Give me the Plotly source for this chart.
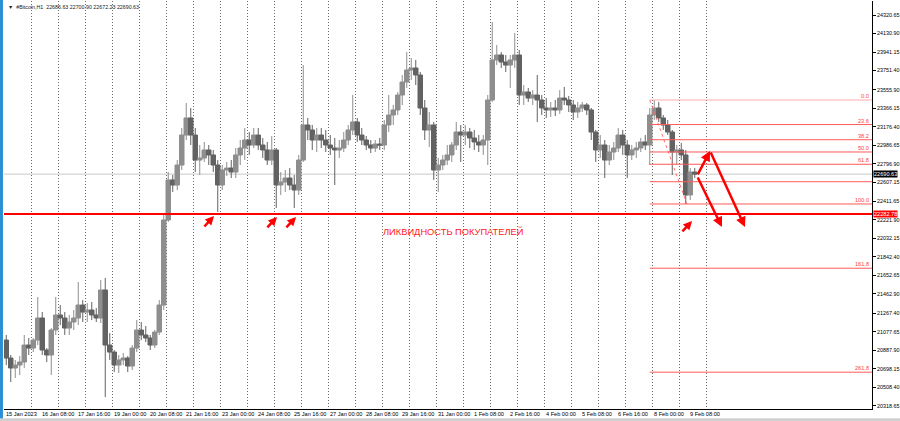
import pandas as pd
import plotly.graph_objects as go

# ---------------- data ----------------
header_text = "▼  #Bitcoin,H1  22686.63 22700.90 22672.23 22690.63"

bar_start = "2023-01-15 02:00"      # middle of first 4-hour bar
bar_freq = "4h"
first_open = 20991

highs = [
    21043, 20838, 20787, 20827, 21043, 21012,
    21012, 21432, 21278, 20909, 21114, 21432,
    21350, 21278, 21248, 21299, 21586, 21401,
    21370, 21381, 21319, 21606, 21627, 21063,
    20889, 20838, 20858, 20827, 20940, 21196,
    21176, 21135, 21043, 21094, 21401, 22272,
    22712, 22682, 22835, 23163, 23419, 23368,
    23163, 22989, 23020, 22989, 22938, 22835,
    22784, 22815, 22835, 22958, 23040, 23163,
    23122, 23163, 23163, 23061, 23020, 23081,
    22958, 22712, 22733, 22753, 22682, 22887,
    23808, 23266, 23194, 23163, 23163, 23143,
    23091, 23061, 23040, 23122, 23194, 23501,
    23266, 23163, 23081, 23040, 23040, 23061,
    23245, 23501, 23399, 23532, 23706, 23941,
    23880, 23860, 23737, 23450, 23327, 23225,
    22856, 22887, 22989, 23020, 23225, 23194,
    23194, 23163, 23143, 23091, 23091, 23501,
    24249, 24013, 23941, 23911, 23911, 24136,
    23962, 23603, 23573, 23552, 23706, 23501,
    23470, 23430, 23450, 23552, 23583, 23491,
    23450, 23430, 23430, 23419, 23368, 23143,
    23091, 23040, 22989, 23020, 23163, 23143,
    23040, 22989, 23020, 23061, 23091, 23368,
    23450, 23430, 23296, 23245, 23143, 22989,
    23010, 22938, 22753, 22753,
]
lows = [
    20735, 20561, 20602, 20633, 20705, 20838,
    20868, 20940, 20838, 20766, 20633, 21043,
    21145, 21043, 21043, 21094, 21145, 21176,
    21176, 21196, 21176, 21166, 20407, 20787,
    20664, 20653, 20735, 20664, 20684, 20868,
    20991, 20971, 20889, 20909, 21043, 21299,
    22201, 22508, 22528, 22733, 23040, 22989,
    22712, 22682, 22815, 22784, 22712, 22303,
    22528, 22672, 22651, 22651, 22784, 22835,
    22887, 22958, 22938, 22856, 22784, 22784,
    22344, 22477, 22508, 22528, 22344, 22477,
    22815, 23040, 22938, 22917, 22958, 22917,
    22887, 22579, 22856, 22917, 22989, 23091,
    23020, 22989, 22938, 22907, 22917, 22938,
    22938, 23122, 23194, 23296, 23399, 23573,
    23655, 23603, 23296, 23040, 22969, 22631,
    22508, 22733, 22784, 22815, 22938, 22815,
    22989, 22958, 22938, 22917, 22887, 22784,
    23430, 23808, 23778, 23737, 23573, 23778,
    23399, 23399, 23430, 23399, 23225, 23296,
    23266, 23276, 23286, 23307, 23399, 23327,
    23245, 23266, 23327, 23296, 23040, 22815,
    22856, 22651, 22784, 22835, 22917, 22887,
    22651, 22835, 22856, 22917, 22938, 22784,
    23245, 23225, 23143, 23091, 22682, 22784,
    22835, 22385, 22426, 22651,
]
closes = [
    20807, 20705, 20735, 20766, 20940, 20909,
    20991, 21217, 20889, 20838, 21094, 21248,
    21217, 21114, 21176, 21217, 21350, 21278,
    21299, 21248, 21217, 21504, 20940, 20868,
    20735, 20787, 20807, 20725, 20909, 21094,
    21043, 21012, 20940, 21073, 21350, 22221,
    22631, 22579, 22784, 23091, 23266, 23091,
    22835, 22856, 22938, 22887, 22784, 22579,
    22733, 22753, 22712, 22887, 22958, 23040,
    22989, 23091, 22989, 22938, 22835, 22938,
    22579, 22610, 22651, 22579, 22528, 22835,
    23194, 23143, 23040, 23091, 23040, 22989,
    22958, 22938, 22958, 23040, 23143, 23225,
    23091, 23040, 22989, 22958, 22999, 22989,
    23194, 23296, 23348, 23501, 23634, 23757,
    23778, 23706, 23368, 23143, 23194, 22733,
    22784, 22835, 22887, 22989, 23122, 23091,
    23122, 23061, 23020, 22989, 23040, 23450,
    23860, 23911, 23839, 23808, 23860, 23911,
    23501, 23532, 23470, 23501, 23450, 23368,
    23348, 23368, 23348, 23470, 23450, 23399,
    23327, 23368, 23399, 23348, 23122, 22938,
    22989, 22835, 22917, 22958, 23091, 22989,
    22887, 22938, 22958, 23020, 22989, 23296,
    23368, 23266, 23194, 23122, 22917, 22938,
    22887, 22477, 22712, 22690.63,
]

current_price = 22690.63
buyer_liquidity = 22282.78
liquidity_text = "ЛИКВИДНОСТЬ ПОКУПАТЕЛЕЙ"
liquidity_text_time = "2023-01-28 23:00"
liquidity_text_price = 22108

fib_high = 23450.0
fib_low = 22385.0
fib_high_time = "2023-02-07 22:00"
fib_low_time = "2023-02-09 07:00"
fib_levels = [0.0, 23.6, 38.2, 50.0, 61.8, 78.6, 100.0, 161.8, 261.8]
fib_labels = ["0.0", "23.6", "38.2", "50.0", "61.8", "", "100.0", "161.8", "261.8"]

# small arrows pointing at the lows (head time, head price)
touch_times = ["2023-01-22 18:40", "2023-01-25 02:40", "2023-01-25 19:35", "2023-02-09 11:35"]
touch_prices = [22262, 22252, 22252, 22211]

# forecast arrows: A -> B (up), B -> D (down), A -> C (down)
path_a = ("2023-02-09 16:00", 22672)
path_b = ("2023-02-10 03:35", 22927)
path_c = ("2023-02-10 14:10", 22149)
path_d = ("2023-02-11 10:40", 22149)

y_ticks = [24320.65, 24130.90, 23941.15, 23751.40, 23555.90, 23366.15, 23176.40,
           22986.65, 22796.90, 22607.15, 22411.65, 22221.90, 22032.15, 21842.40,
           21652.65, 21462.90, 21267.40, 21077.65, 20887.90, 20698.15, 20508.40,
           20318.65]

x_tick_times = ["2023-01-15 00:00", "2023-01-16 08:00", "2023-01-17 16:00", "2023-01-19 00:00",
                "2023-01-20 08:00", "2023-01-21 16:00", "2023-01-23 00:00", "2023-01-24 08:00",
                "2023-01-25 16:00", "2023-01-27 00:00", "2023-01-28 08:00", "2023-01-29 16:00",
                "2023-01-31 00:00", "2023-02-01 08:00", "2023-02-02 16:00", "2023-02-04 00:00",
                "2023-02-05 08:00", "2023-02-06 16:00", "2023-02-08 00:00", "2023-02-09 08:00"]
x_tick_labels = ["15 Jan 2023", "16 Jan 08:00", "17 Jan 16:00", "19 Jan 00:00",
                 "20 Jan 08:00", "21 Jan 16:00", "23 Jan 00:00", "24 Jan 08:00",
                 "25 Jan 16:00", "27 Jan 00:00", "28 Jan 08:00", "29 Jan 16:00",
                 "31 Jan 00:00", "1 Feb 08:00", "2 Feb 16:00", "4 Feb 00:00",
                 "5 Feb 08:00", "6 Feb 16:00", "8 Feb 00:00", "9 Feb 08:00"]
grid_days = pd.date_range("2023-01-16", "2023-02-10", freq="D")

x_range = ["2023-01-15 00:00", "2023-02-16 03:33"]
y_range = [20284.9, 24464.05]

# ---------------- figure ----------------
FONT = "Liberation Sans"
RED = "#ff0000"

times = pd.date_range(bar_start, periods=len(closes), freq=bar_freq)
opens = [first_open] + closes[:-1]

fig = go.Figure()
fig.add_trace(go.Candlestick(
    x=times, open=opens, high=highs, low=lows, close=closes,
    increasing=dict(line=dict(color="#8e8e8e", width=1), fillcolor="#8e8e8e"),
    decreasing=dict(line=dict(color="#626262", width=1), fillcolor="#626262"),
    whiskerwidth=0, showlegend=False, hoverinfo="skip",
))

# fib trend (dotted diagonal)
fig.add_trace(go.Scatter(
    x=[fib_high_time, fib_low_time], y=[fib_high, fib_low], mode="lines",
    line=dict(color="#ff7070", width=1, dash="dot"), showlegend=False, hoverinfo="skip",
))

shapes = []
shapes.append(dict(type="line", xref="paper", x0=0, x1=1, yref="y",
                   y0=current_price, y1=current_price, layer="between",
                   line=dict(color="#c8c8c8", width=1)))
for lvl in fib_levels:
    p = fib_high - (fib_high - fib_low) * lvl / 100.0
    shapes.append(dict(type="line", xref="x", x0=fib_high_time, x1=x_range[1], yref="y",
                       y0=p, y1=p, layer="above",
                       line=dict(color="#ffaaaa" if lvl == 0 else "#ff5a5a", width=1)))
shapes.append(dict(type="line", xref="paper", x0=0, x1=1, yref="y",
                   y0=buyer_liquidity, y1=buyer_liquidity, layer="above",
                   line=dict(color=RED, width=2)))
# window borders
shapes.append(dict(type="rect", xref="paper", yref="paper", x0=-0.0046, x1=-0.0012,
                   y0=-0.03, y1=1.01, fillcolor="#2a8fd4", line=dict(width=0), layer="above"))
shapes.append(dict(type="rect", xref="paper", yref="paper", x0=-0.01, x1=1.04,
                   y0=-0.0295, y1=-0.0225, fillcolor="#d0d0d0", line=dict(width=0), layer="above"))

annotations = []
annotations.append(dict(xref="paper", yref="paper", x=0, y=1, xanchor="left", yanchor="middle",
                        xshift=2, yshift=-6, text=header_text, showarrow=False,
                        font=dict(family=FONT, size=5.3, color="#202020")))
for t, lab in zip(x_tick_times, x_tick_labels):
    annotations.append(dict(xref="x", yref="paper", x=t, y=0, xanchor="left", yanchor="top",
                            yshift=0, text=lab, showarrow=False,
                            font=dict(family=FONT, size=5.6, color="#000000")))
for lvl, lab in zip(fib_levels, fib_labels):
    if not lab:
        continue
    p = fib_high - (fib_high - fib_low) * lvl / 100.0
    annotations.append(dict(xref="paper", yref="y", x=1, y=p, xanchor="right", yanchor="bottom",
                            xshift=-1, yshift=-1, text=lab, showarrow=False,
                            font=dict(family=FONT, size=5.6, color="#ff4040")))
annotations.append(dict(xref="paper", yref="y", x=1, y=buyer_liquidity, xanchor="left",
                        yanchor="middle", xshift=1, text=f"{buyer_liquidity:.2f}",
                        showarrow=False, bgcolor=RED, borderpad=0,
                        font=dict(family=FONT, size=5.6, color="#ffffff")))
annotations.append(dict(xref="paper", yref="y", x=1, y=current_price, xanchor="left",
                        yanchor="middle", xshift=1, text=f"{current_price:.2f}",
                        showarrow=False, bgcolor="#000000", borderpad=0,
                        font=dict(family=FONT, size=5.6, color="#ffffff")))
annotations.append(dict(xref="x", yref="y", x=liquidity_text_time, y=liquidity_text_price,
                        xanchor="left", yanchor="middle", text=liquidity_text, showarrow=False,
                        font=dict(family=FONT, size=9.3, color="#ff2020")))
for t, p in zip(touch_times, touch_prices):
    annotations.append(dict(xref="x", yref="y", x=t, y=p, ax=-11, ay=12, text="",
                            showarrow=True, arrowhead=2, arrowsize=0.7, arrowwidth=2.5,
                            arrowcolor=RED, standoff=0))
for tail, head in [(path_a, path_b), (path_b, path_d), (path_a, path_c)]:
    annotations.append(dict(xref="x", yref="y", x=head[0], y=head[1],
                            axref="x", ayref="y", ax=tail[0], ay=tail[1], text="",
                            showarrow=True, arrowhead=2, arrowsize=0.8, arrowwidth=2.5,
                            arrowcolor=RED, standoff=0))

fig.update_layout(
    width=900, height=421,
    margin=dict(l=4, r=28, t=1, b=12),
    paper_bgcolor="#ffffff", plot_bgcolor="#ffffff",
    showlegend=False, boxgap=0.0, boxgroupgap=0.0,
    shapes=shapes, annotations=annotations,
    xaxis=dict(type="date", range=x_range, rangeslider=dict(visible=False),
               tickvals=list(grid_days), showticklabels=False, ticks="",
               showgrid=True, gridcolor="#6a6a6a", gridwidth=1, griddash="1px,2px",
               showline=True, linecolor="#000000", linewidth=1, zeroline=False,
               fixedrange=True),
    yaxis=dict(side="right", range=y_range, tickvals=y_ticks,
               ticktext=[f"{v:.2f}" for v in y_ticks],
               ticks="outside", ticklen=3, tickcolor="#000000",
               tickfont=dict(family=FONT, size=5.4, color="#000000"),
               ticklabeloverflow="allow",
               showgrid=False, showline=True, linecolor="#000000", linewidth=1,
               zeroline=False, fixedrange=True),
)

fig.write_html("out.html", config={"displayModeBar": False},
               post_script="document.body.style.margin='0';document.body.style.overflow='hidden';")
